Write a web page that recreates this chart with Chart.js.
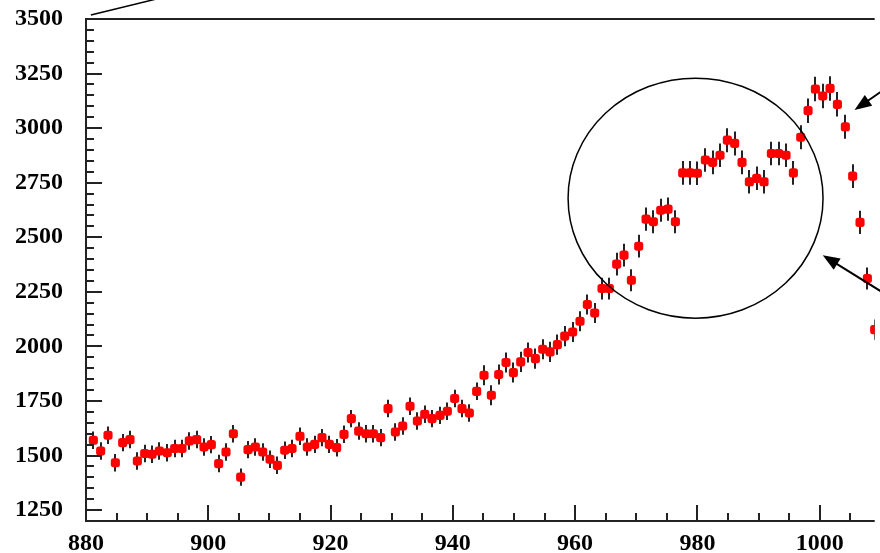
<!DOCTYPE html>
<html>
<head>
<meta charset="utf-8">
<script src="https://cdn.jsdelivr.net/npm/chart.js@4.4.1/dist/chart.umd.min.js"></script>
<style>
  html, body { margin: 0; padding: 0; background: #fff; }
  #wrap { width: 880px; height: 553px; position: relative; }
</style>
</head>
<body>
<div id="wrap"><canvas id="c"></canvas></div>
<script>
// tick labels
const xTicks = [880, 900, 920, 940, 960, 980, 1000];
const yTicks = [1250, 1500, 1750, 2000, 2250, 2500, 2750, 3000, 3250, 3500];

// bin centres
const xVals = [
  881.2, 882.4, 883.6, 884.8, 886.0, 887.2, 888.4, 889.6, 890.8, 892.0,
  893.3, 894.5, 895.7, 896.9, 898.1, 899.3, 900.5, 901.7, 902.9, 904.1,
  905.3, 906.5, 907.7, 908.9, 910.1, 911.3, 912.5, 913.7, 915.0, 916.2,
  917.4, 918.6, 919.8, 921.0, 922.2, 923.4, 924.6, 925.8, 927.0, 928.2,
  929.4, 930.6, 931.8, 933.0, 934.2, 935.4, 936.6, 937.9, 939.1, 940.3,
  941.5, 942.7, 943.9, 945.1, 946.3, 947.5, 948.7, 949.9, 951.1, 952.3,
  953.5, 954.7, 955.9, 957.1, 958.3, 959.6, 960.8, 962.0, 963.2, 964.4,
  965.6, 966.8, 968.0, 969.2, 970.4, 971.6, 972.8, 974.0, 975.2, 976.4,
  977.6, 978.8, 980.0, 981.3, 982.5, 983.7, 984.9, 986.1, 987.3, 988.5,
  989.7, 990.9, 992.1, 993.3, 994.5, 995.7, 996.9, 998.1, 999.3, 1000.5,
  1001.7, 1002.9, 1004.2, 1005.4, 1006.6, 1007.8, 1009.0
];

// counts
const yVals = [
  1570, 1521, 1593, 1467, 1559, 1573, 1475, 1509, 1506, 1521,
  1513, 1532, 1532, 1567, 1573, 1539, 1550, 1463, 1516, 1600,
  1401, 1527, 1539, 1516, 1483, 1455, 1524, 1532, 1588, 1539,
  1551, 1582, 1551, 1536, 1597, 1669, 1612, 1600, 1600, 1582,
  1715, 1608, 1635, 1726, 1658, 1689, 1669, 1684, 1703, 1761,
  1715, 1695, 1794, 1868, 1776, 1871, 1926, 1880, 1929, 1972,
  1944, 1987, 1975, 2008, 2047, 2066, 2115, 2192, 2153, 2265,
  2265, 2377, 2418, 2303, 2459, 2583, 2571, 2624, 2629, 2571,
  2795, 2795, 2793, 2854, 2843, 2876, 2945, 2930, 2843, 2754,
  2770, 2754, 2884, 2884, 2876, 2795, 2958, 3080, 3179, 3147,
  3182, 3109, 3006, 2780, 2568, 2311, 2077
];

// half length of the error bars
const yErr = [
  40, 40, 40, 40, 40, 40, 40, 40, 40, 40,
  40, 40, 40, 40, 40, 40, 40, 40, 40, 40,
  40, 40, 40, 40, 40, 40, 40, 40, 40, 40,
  40, 40, 40, 40, 40, 40, 40, 40, 40, 40,
  40, 40, 40, 40, 40, 40, 40, 40, 40, 40,
  40, 40, 40, 46, 46, 46, 46, 46, 46, 46,
  46, 46, 46, 46, 46, 46, 46, 46, 46, 50,
  50, 52, 52, 50, 52, 53, 53, 53, 53, 53,
  54, 54, 54, 54, 54, 54, 55, 55, 54, 54,
  54, 54, 54, 54, 54, 54, 55, 56, 56, 56,
  56, 56, 55, 54, 53, 50, 46
];

// drawn marks around the peak, in axis units
const ring   = { x: 979.7, y: 2679, rx: 20.85, ry: 550 };
const arrows = [
  { from: [1012.1, 3207], to: [1005.7, 3083] },
  { from: [1012.1, 2216], to: [1000.5, 2418] }
];
const slash  = { from: [880.8, 3518], to: [892.0, 3595] };

const INK = '#222';

const points = xVals.map((x, i) => ({ x, y: yVals[i], e: yErr[i] }));

function arrow(ctx, x0, y0, x1, y1){
  const a = Math.atan2(y1 - y0, x1 - x0);
  const L = 17, W = 6.5;
  ctx.beginPath();
  ctx.moveTo(x0, y0);
  ctx.lineTo(x1 - Math.cos(a) * L * 0.8, y1 - Math.sin(a) * L * 0.8);
  ctx.stroke();
  ctx.beginPath();
  ctx.moveTo(x1, y1);
  ctx.lineTo(x1 - Math.cos(a) * L + Math.sin(a) * W, y1 - Math.sin(a) * L - Math.cos(a) * W);
  ctx.lineTo(x1 - Math.cos(a) * L - Math.sin(a) * W, y1 - Math.sin(a) * L + Math.cos(a) * W);
  ctx.closePath();
  ctx.fill();
}

const decor = {
  id: 'decor',
  beforeDatasetsDraw(chart){
    const { ctx, chartArea: a, scales: { x, y } } = chart;
    ctx.save();
    ctx.beginPath();
    ctx.rect(a.left, a.top, a.right - a.left, a.bottom - a.top);
    ctx.clip();
    ctx.strokeStyle = INK;
    ctx.lineWidth = 2;
    points.forEach(p => {
      const px = Math.round(x.getPixelForValue(p.x));
      ctx.beginPath();
      ctx.moveTo(px, y.getPixelForValue(p.y - p.e));
      ctx.lineTo(px, y.getPixelForValue(p.y + p.e));
      ctx.stroke();
    });
    ctx.restore();
  },
  afterDraw(chart){
    const { ctx, chartArea: a, scales: { x, y } } = chart;
    ctx.save();
    ctx.strokeStyle = INK;
    ctx.fillStyle = '#000';
    ctx.lineWidth = 2;

    // frame: left, bottom, top
    ctx.beginPath();
    ctx.moveTo(a.right, a.top); ctx.lineTo(a.left, a.top);
    ctx.lineTo(a.left, a.bottom); ctx.lineTo(a.right, a.bottom);
    ctx.stroke();

    // inward ticks
    ctx.beginPath();
    for (let v = 1250; v < 3500; v += 50) {
      const py = Math.round(y.getPixelForValue(v));
      const len = yTicks.includes(v) ? 16 : 8;
      ctx.moveTo(a.left, py); ctx.lineTo(a.left + len, py);
    }
    for (let v = 885; v <= 1005; v += 5) {
      const px = Math.round(x.getPixelForValue(v));
      const len = xTicks.includes(v) ? 16 : 8;
      ctx.moveTo(px, a.bottom); ctx.lineTo(px, a.bottom - len);
    }
    ctx.stroke();

    // ring around the bump
    const cx = x.getPixelForValue(ring.x), cy = y.getPixelForValue(ring.y);
    const rx = x.getPixelForValue(ring.x + ring.rx) - cx;
    const ry = cy - y.getPixelForValue(ring.y + ring.ry);
    ctx.strokeStyle = '#000';
    ctx.lineWidth = 1.5;
    ctx.beginPath();
    ctx.ellipse(cx, cy, rx, ry, 0, 0, Math.PI * 2);
    ctx.stroke();

    // arrows
    ctx.lineWidth = 2;
    arrows.forEach(r => {
      arrow(ctx,
        x.getPixelForValue(r.from[0]), y.getPixelForValue(r.from[1]),
        x.getPixelForValue(r.to[0]),   y.getPixelForValue(r.to[1]));
    });

    // stroke off the top-left corner
    ctx.lineWidth = 1.5;
    ctx.beginPath();
    ctx.moveTo(x.getPixelForValue(slash.from[0]), y.getPixelForValue(slash.from[1]));
    ctx.lineTo(x.getPixelForValue(slash.to[0]),   y.getPixelForValue(slash.to[1]));
    ctx.stroke();
    ctx.restore();
  }
};

const labelFont = { family: '"Liberation Serif", "Times New Roman", serif', size: 24, weight: 'bold' };

function noOverflow(s){
  s.paddingTop = 0; s.paddingBottom = 0; s.paddingLeft = 0; s.paddingRight = 0;
}

new Chart(document.getElementById('c'), {
  type: 'scatter',
  data: {
    datasets: [{
      data: points,
      showLine: false,
      pointStyle: 'rectRounded',
      pointRadius: 5.3,
      pointBorderWidth: 0,
      backgroundColor: '#ff0000',
      borderColor: '#ff0000'
    }]
  },
  options: {
    responsive: true,
    maintainAspectRatio: false,
    animation: false,
    layout: { padding: { top: 19, left: 0, right: 0, bottom: 0 } },
    plugins: { legend: { display: false }, tooltip: { enabled: false } },
    scales: {
      x: {
        type: 'linear',
        min: 880, max: 1009,
        grid: { display: false },
        border: { display: false },
        afterBuildTicks: s => { s.ticks = xTicks.map(v => ({ value: v })); },
        afterFit: s => { s.height = 32; noOverflow(s); },
        ticks: { color: '#000', font: labelFont, padding: 0, maxRotation: 0, callback: v => String(v) }
      },
      y: {
        type: 'linear',
        min: 1200, max: 3500,
        grid: { display: false },
        border: { display: false },
        afterBuildTicks: s => { s.ticks = yTicks.map(v => ({ value: v })); },
        afterFit: s => { s.width = 86; noOverflow(s); },
        ticks: { color: '#000', font: labelFont, padding: 15, callback: v => String(v) }
      }
    }
  },
  plugins: [decor]
});
</script>
</body>
</html>
